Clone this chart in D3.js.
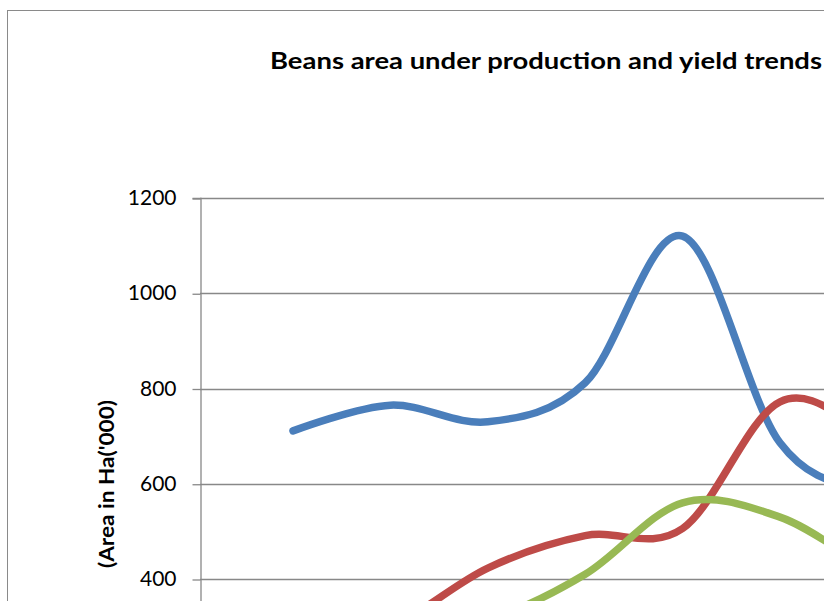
<!DOCTYPE html>
<html>
<head>
<meta charset="utf-8">
<script src="https://cdn.jsdelivr.net/npm/d3@7/dist/d3.min.js"></script>
<style>
  html, body { margin: 0; padding: 0; background: #ffffff; overflow: hidden; }
  svg { display: block; }
</style>
</head>
<body>
<svg id="chart" width="824" height="601"></svg>
<script>
// Seasons plotted along the category axis
const years = ["2003", "2004", "2005", "2006", "2007", "2008", "2009", "2010"];

// Area under production, hectares ('000)
const areaSeries = [711, 765, 730, 812, 1120, 686, 580, 550];
// Production trend
const productionSeries = [255, 300, 423, 491, 506, 772, 705, 650];
// Yield trend
const yieldSeries = [270, 290, 315, 410, 560, 530, 420, 380];

const yTicks = [400, 600, 800, 1000, 1200];

const chartTitle = "Beans area under production and yield trends";
const yAxisTitle = "(Area in Ha('000)";

const seriesColors = ["#4A7EBB", "#BE4B48", "#98B954"];

const svg = d3.select("#chart");

// Outer chart frame
svg.append("rect")
  .attr("x", 7.5).attr("y", 10.5)
  .attr("width", 1000).attr("height", 800)
  .attr("fill", "#ffffff")
  .attr("stroke", "#8a8a8a")
  .attr("stroke-width", 1);

const plotLeft = 200;
const plotTop = 198;
const plotRight = 1000;
const plotBottom = 769.5;

const y = d3.scaleLinear().domain([0, 1200]).range([plotBottom, plotTop]);
const x = d3.scalePoint().domain(years).range([293, 293 + 97.4 * (years.length - 1)]);

// Horizontal gridlines
svg.append("g")
  .selectAll("line")
  .data(yTicks)
  .join("line")
  .attr("x1", plotLeft).attr("x2", plotRight)
  .attr("y1", d => Math.round(y(d)) + 0.5)
  .attr("y2", d => Math.round(y(d)) + 0.5)
  .attr("stroke", "#888888")
  .attr("stroke-width", 1.3);

// Value axis
const yAxis = d3.axisLeft(y).tickValues(yTicks).tickFormat(d3.format("d"))
  .tickSize(8).tickPadding(16);
const ya = svg.append("g")
  .attr("transform", `translate(${plotLeft + 0.5},0)`)
  .call(yAxis);
ya.select(".domain").attr("stroke", "#888888").attr("stroke-width", 1.3);
ya.selectAll(".tick line")
  .attr("stroke", "#888888").attr("stroke-width", 1.3)
  .attr("transform", "translate(0,0.5)");
ya.selectAll(".tick text")
  .attr("font-family", "Lato, 'Open Sans', sans-serif")
  .attr("font-size", 21)
  .attr("fill", "#000000");

// Series lines, smoothed
const line = d3.line()
  .defined(d => d != null)
  .x((d, i) => x(years[i]))
  .y(d => y(d))
  .curve(d3.curveCardinal.tension(0));

[areaSeries, productionSeries, yieldSeries].forEach((s, k) => {
  svg.append("path")
    .datum(s)
    .attr("d", line)
    .attr("fill", "none")
    .attr("stroke", seriesColors[k])
    .attr("stroke-width", 7.5)
    .attr("stroke-linecap", "round")
    .attr("stroke-linejoin", "round");
});

// Title
svg.append("text")
  .attr("x", 270).attr("y", 69)
  .attr("font-family", "Lato, 'Open Sans', sans-serif")
  .attr("font-weight", "bold")
  .attr("font-size", 23)
  .attr("textLength", 552)
  .attr("lengthAdjust", "spacingAndGlyphs")
  .attr("fill", "#000000")
  .text(chartTitle);

// Value axis title
svg.append("text")
  .attr("transform", "translate(114,484) rotate(-90)")
  .attr("text-anchor", "middle")
  .attr("font-family", "Lato, 'Open Sans', sans-serif")
  .attr("font-weight", "bold")
  .attr("font-size", 20)
  .attr("textLength", 168)
  .attr("lengthAdjust", "spacingAndGlyphs")
  .attr("fill", "#000000")
  .text(yAxisTitle);
</script>
</body>
</html>
